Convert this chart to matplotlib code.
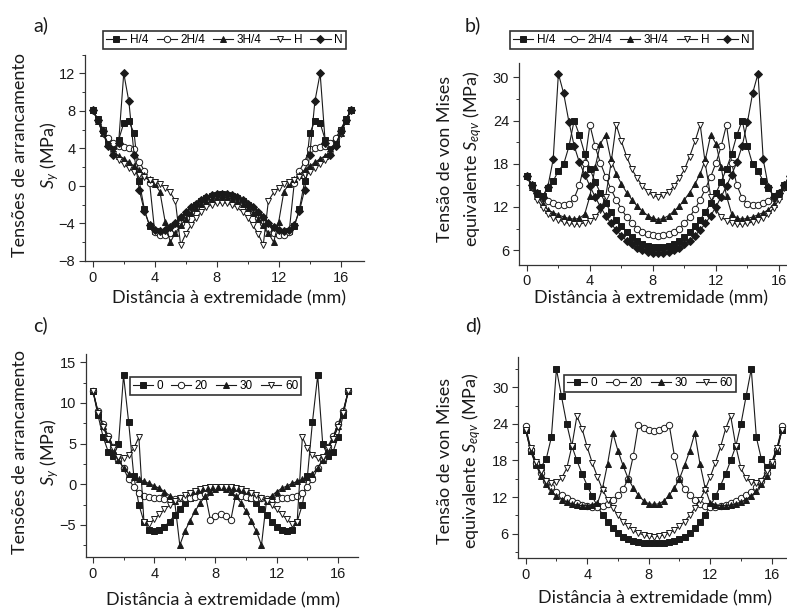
"""Four-panel stress profiles along the bonded length (Sy and von Mises)."""

import matplotlib

matplotlib.use("Agg")
import matplotlib.pyplot as plt
from matplotlib.ticker import MultipleLocator

# distance from the edge (mm)
X_MM = [0.0, 0.33, 0.67, 1.0, 1.33, 1.67, 2.0, 2.33, 2.67, 3.0, 3.33, 3.67, 4.0,
        4.33, 4.67, 5.0, 5.33, 5.67, 6.0, 6.33, 6.67, 7.0, 7.33, 7.67, 8.0, 8.33,
        8.67, 9.0, 9.33, 9.67, 10.0, 10.33, 10.67, 11.0, 11.33, 11.67, 12.0, 12.33,
        12.67, 13.0, 13.33, 13.67, 14.0, 14.33, 14.67, 15.0, 15.33, 15.67, 16.0,
        16.33, 16.67]

# a) peel stress Sy (MPa) vs position
A_LABELS = ["H/4", "2H/4", "3H/4", "H", "N"]
A_H4 = [8.1, 7.1, 6.0, 4.6, 4.3, 4.9, 6.7, 6.9, 5.6, 0.5, -2.5, -4.3, -4.8, -4.9, -4.9, -4.7, -4.2,
        -3.6, -3.0, -2.5, -2.0, -1.6, -1.3, -1.1, -0.95, -0.9, -0.95, -1.1, -1.3, -1.6, -2.0, -2.5,
        -3.0, -3.6, -4.2, -4.7, -4.9, -4.9, -4.8, -4.3, -2.5, 0.5, 5.6, 6.9, 6.7, 4.9, 4.3, 4.6,
        6.0, 7.1, 8.1]
A_2H4 = [8.1, 7.0, 6.0, 5.1, 4.6, 4.2, 4.1, 4.0, 3.9, 2.6, 1.6, 0.3, -4.9, -5.2, -5.2, -5.0, -4.6,
         -4.0, -3.4, -2.8, -2.3, -1.8, -1.5, -1.2, -1.05, -1.0, -1.05, -1.2, -1.5, -1.8, -2.3, -2.8,
         -3.4, -4.0, -4.6, -5.0, -5.2, -5.2, -4.9, 0.3, 1.6, 2.6, 3.9, 4.0, 4.1, 4.2, 4.6, 5.1,
         6.0, 7.0, 8.1]
A_3H4 = [8.1, 6.9, 5.6, 4.5, 3.7, 3.2, 2.9, 2.5, 2.1, 1.7, 1.2, 0.7, 0.2, -0.6, -3.8, -6.0, -5.0,
         -4.2, -3.5, -2.9, -2.4, -1.9, -1.6, -1.4, -1.25, -1.2, -1.25, -1.4, -1.6, -1.9, -2.4, -2.9,
         -3.5, -4.2, -5.0, -6.0, -3.8, -0.6, 0.2, 0.7, 1.2, 1.7, 2.1, 2.5, 2.9, 3.2, 3.7, 4.5,
         5.6, 6.9, 8.1]
A_H = [8.1, 6.9, 5.5, 4.3, 3.4, 2.8, 2.3, 1.9, 1.5, 1.2, 0.9, 0.6, 0.4, 0.2, -0.2, -0.7, -1.6,
       -6.3, -5.1, -4.2, -3.4, -2.8, -2.3, -2.0, -1.85, -1.8, -1.85, -2.0, -2.3, -2.8, -3.4, -4.2,
       -5.1, -6.3, -1.6, -0.7, -0.2, 0.2, 0.4, 0.6, 0.9, 1.2, 1.5, 1.9, 2.3, 2.8, 3.4, 4.3,
       5.5, 6.9, 8.1]
A_N = [8.1, 7.0, 5.8, 4.3, 3.3, 4.6, 12.0, 9.0, 3.3, -0.4, -2.7, -4.2, -4.7, -4.8, -4.7, -4.4, -3.9,
       -3.3, -2.8, -2.3, -1.9, -1.5, -1.2, -1.0, -0.9, -0.85, -0.9, -1.0, -1.2, -1.5, -1.9, -2.3,
       -2.8, -3.3, -3.9, -4.4, -4.7, -4.8, -4.7, -4.2, -2.7, -0.4, 3.3, 9.0, 12.0, 4.6, 3.3, 4.3,
       5.8, 7.0, 8.1]

# b) equivalent von Mises stress (MPa)
B_H4 = [16.3, 15.0, 14.0, 13.5, 14.6, 15.6, 17.0, 17.9, 20.4, 24.0, 22.0, 19.4, 17.3, 15.5, 13.9,
        12.5, 11.3, 10.2, 9.3, 8.5, 7.8, 7.3, 6.9, 6.6, 6.45, 6.4, 6.45, 6.6, 6.9, 7.3, 7.8, 8.5,
        9.3, 10.2, 11.3, 12.5, 13.9, 15.5, 17.3, 19.4, 22.0, 24.0, 20.4, 17.9, 17.0, 15.6, 14.6,
        13.5, 14.0, 15.0, 16.3]
B_2H4 = [16.3, 15.0, 14.0, 13.3, 12.8, 12.5, 12.3, 12.2, 12.4, 13.2, 15.0, 18.1, 23.4, 20.4, 18.1,
         16.2, 14.5, 13.0, 11.7, 10.6, 9.7, 9.0, 8.5, 8.2, 8.05, 8.0, 8.05, 8.2, 8.5, 9.0, 9.7,
         10.6, 11.7, 13.0, 14.5, 16.2, 18.1, 20.4, 23.4, 18.1, 15.0, 13.2, 12.4, 12.2, 12.3, 12.5,
         12.8, 13.3, 14.0, 15.0, 16.3]
B_3H4 = [16.3, 14.8, 13.5, 12.4, 11.6, 11.2, 10.9, 10.6, 10.4, 10.3, 10.4, 11.0, 13.5, 17.5, 20.8,
         22.0, 18.6, 16.6, 15.2, 14.0, 13.0, 12.1, 11.4, 10.8, 10.4, 10.2, 10.4, 10.8, 11.4, 12.1,
         13.0, 14.0, 15.2, 16.6, 18.6, 22.0, 20.8, 17.5, 13.5, 11.0, 10.4, 10.3, 10.4, 10.6, 10.9,
         11.2, 11.6, 12.4, 13.5, 14.8, 16.3]
B_H = [16.3, 14.6, 13.0, 11.9, 11.0, 10.5, 10.2, 9.9, 9.7, 9.6, 9.6, 9.8, 10.1, 10.6, 11.6, 13.4,
       17.9, 23.4, 21.1, 19.0, 17.2, 16.0, 14.9, 14.1, 13.6, 13.4, 13.6, 14.1, 14.9, 16.0, 17.2,
       19.0, 21.1, 23.4, 17.9, 13.4, 11.6, 10.6, 10.1, 9.8, 9.6, 9.6, 9.7, 9.9, 10.2, 10.5, 11.0,
       11.9, 13.0, 14.6, 16.3]
B_N = [16.3, 15.0, 14.0, 13.4, 14.8, 18.6, 30.5, 27.8, 23.8, 20.5, 18.2, 16.5, 14.9, 13.4, 12.0,
       10.8, 9.7, 8.8, 8.0, 7.3, 6.8, 6.35, 6.0, 5.8, 5.65, 5.6, 5.65, 5.8, 6.0, 6.35, 6.8, 7.3,
       8.0, 8.8, 9.7, 10.8, 12.0, 13.4, 14.9, 16.5, 18.2, 20.5, 23.8, 27.8, 30.5, 18.6, 14.8,
       13.4, 14.0, 15.0, 16.3]

# c) peel stress Sy (MPa), second parameter set
C_LABELS = ["0", "20", "30", "60"]
C_0 = [11.5, 8.5, 5.8, 4.0, 3.5, 4.9, 13.4, 7.7, 1.0, -2.5, -4.6, -5.6, -5.8, -5.6, -5.2, -4.6,
       -3.8, -3.0, -2.3, -1.7, -1.2, -0.8, -0.55, -0.4, -0.3, -0.3, -0.3, -0.4, -0.55, -0.8, -1.2,
       -1.7, -2.3, -3.0, -3.8, -4.6, -5.2, -5.6, -5.8, -5.6, -4.6, -2.5, 1.0, 7.7, 13.4, 4.9, 3.5,
       4.0, 5.8, 8.5, 11.5]
C_20 = [11.5, 9.0, 7.4, 5.9, 4.6, 3.0, 2.0, 0.6, -0.3, -1.1, -1.4, -1.6, -1.7, -1.75, -1.8, -1.8,
        -1.8, -1.75, -1.7, -1.65, -1.6, -1.4, -1.2, -4.4, -3.9, -3.7, -3.9, -4.4, -1.2, -1.4, -1.6,
        -1.65, -1.7, -1.75, -1.8, -1.8, -1.8, -1.75, -1.7, -1.6, -1.4, -1.1, -0.3, 0.6, 2.0, 3.0,
        4.6, 5.9, 7.4, 9.0, 11.5]
C_30 = [11.5, 8.9, 7.2, 5.6, 4.2, 3.0, 2.0, 1.3, 0.9, 0.6, 0.35, 0.1, -0.2, -0.5, -0.9, -1.4, -2.0,
        -7.5, -5.8, -4.5, -3.3, -2.3, -1.5, -0.9, -0.55, -0.4, -0.55, -0.9, -1.5, -2.3, -3.3, -4.5,
        -5.8, -7.5, -2.0, -1.4, -0.9, -0.5, -0.2, 0.1, 0.35, 0.6, 0.9, 1.3, 2.0, 3.0, 4.2, 5.6,
        7.2, 8.9, 11.5]
C_60 = [11.5, 8.8, 7.0, 5.6, 4.4, 3.3, 3.2, 3.6, 4.4, 5.8, -4.6, -4.9, -4.3, -3.7, -3.1, -2.6, -2.1,
        -1.7, -1.35, -1.05, -0.8, -0.6, -0.5, -0.4, -0.35, -0.3, -0.35, -0.4, -0.5, -0.6, -0.8,
        -1.05, -1.35, -1.7, -2.1, -2.6, -3.1, -3.7, -4.3, -4.9, -4.6, 5.8, 4.4, 3.6, 3.2, 3.3,
        4.4, 5.6, 7.0, 8.8, 11.5]

# d) equivalent von Mises stress (MPa), second parameter set
D_0 = [23.0, 19.5, 17.5, 17.0, 18.2, 21.8, 33.0, 28.5, 24.0, 20.4, 18.0, 15.8, 13.9, 12.1, 10.5,
       9.1, 7.9, 6.9, 6.1, 5.5, 5.1, 4.8, 4.6, 4.5, 4.45, 4.4, 4.45, 4.5, 4.6, 4.8, 5.1, 5.5, 6.1,
       6.9, 7.9, 9.1, 10.5, 12.1, 13.9, 15.8, 18.0, 20.4, 24.0, 28.5, 33.0, 21.8, 18.2, 17.0,
       17.5, 19.5, 23.0]
D_20 = [23.6, 19.8, 17.6, 16.0, 14.7, 13.6, 12.9, 12.3, 11.8, 11.4, 11.0, 10.7, 10.5, 10.3, 10.3,
        10.5, 10.9, 11.5, 12.3, 13.3, 15.0, 18.8, 23.9, 23.3, 23.0, 22.9, 23.0, 23.3, 23.9, 18.8,
        15.0, 13.3, 12.3, 11.5, 10.9, 10.5, 10.3, 10.3, 10.5, 10.7, 11.0, 11.4, 11.8, 12.3, 12.9,
        13.6, 14.7, 16.0, 17.6, 19.8, 23.6]
D_30 = [23.0, 19.5, 17.2, 15.5, 14.1, 13.0, 12.2, 11.6, 11.2, 10.9, 10.7, 10.6, 10.6, 10.7, 11.0,
        13.5, 17.5, 22.5, 19.6, 17.2, 15.0, 13.5, 12.3, 11.4, 10.9, 10.8, 10.9, 11.4, 12.3, 13.5,
        15.0, 17.2, 19.6, 22.5, 17.5, 13.5, 11.0, 10.7, 10.6, 10.6, 10.7, 10.9, 11.2, 11.6, 12.2,
        13.0, 14.1, 15.5, 17.2, 19.5, 23.0]
D_60 = [23.0, 20.0, 17.8, 16.2, 14.7, 14.3, 14.4, 15.1, 16.7, 20.3, 25.3, 23.2, 20.2, 17.6, 15.3,
        13.2, 11.6, 10.2, 9.0, 8.0, 7.2, 6.6, 6.1, 5.8, 5.6, 5.5, 5.6, 5.8, 6.1, 6.6, 7.2, 8.0,
        9.0, 10.2, 11.6, 13.2, 15.3, 17.6, 20.2, 23.2, 25.3, 20.3, 16.7, 15.1, 14.4, 14.3, 14.7,
        16.2, 17.8, 20.0, 23.0]

LABEL_FONT = "Lato"
INK = "#1a1a1a"

# marker, filled?, size
STYLES = [("s", True, 4.4), ("o", False, 4.6), ("^", True, 4.7), ("v", False, 4.7), ("D", True, 3.6)]

plt.rcParams["font.family"] = "Liberation Sans"
plt.rcParams["mathtext.fontset"] = "custom"
plt.rcParams["mathtext.it"] = "Lato:italic"
plt.rcParams["mathtext.rm"] = "Lato"


def px_rect(left, right, top, bottom):
    """Axes rectangle from pixel edges of the 787x615 canvas."""
    return [left / 787, 1 - bottom / 615, (right - left) / 787, (bottom - top) / 615]


def draw_panel(ax, series, labels, xlim, ylim, ymajor, yminor):
    for values, label, (marker, filled, size) in zip(series, labels, STYLES):
        ax.plot(
            X_MM,
            values,
            color=INK,
            lw=0.8,
            marker=marker,
            ms=size,
            mfc=INK if filled else "white",
            mec=INK,
            mew=0.7,
            label=label,
        )

    ax.set_xlim(*xlim)
    ax.set_ylim(*ylim)
    ax.xaxis.set_major_locator(MultipleLocator(4))
    ax.xaxis.set_minor_locator(MultipleLocator(2))
    ax.yaxis.set_major_locator(MultipleLocator(ymajor))
    ax.yaxis.set_minor_locator(MultipleLocator(yminor))
    for side in ("top", "right"):
        ax.spines[side].set_visible(False)
    for side in ("left", "bottom"):
        ax.spines[side].set_color("#333333")
        ax.spines[side].set_linewidth(0.9)
    ax.tick_params(which="major", direction="out", length=4, width=0.8,
                   colors="#333333", labelsize=10.5, labelcolor=INK, pad=3)
    ax.tick_params(which="minor", direction="out", length=2.5, width=0.7, colors="#333333")


def add_legend(ax, ncol, center):
    leg = ax.legend(
        loc="center",
        bbox_to_anchor=(center[0] / 787, 1 - center[1] / 615),
        bbox_transform=ax.figure.transFigure,
        ncol=ncol,
        fontsize=8.5,
        frameon=True,
        fancybox=False,
        edgecolor="black",
        handlelength=1.7,
        handletextpad=0.3,
        columnspacing=0.7,
        borderpad=0.25,
        borderaxespad=0,
    )
    leg.get_frame().set_linewidth(1.2)


def add_ylabel(fig, line1, line2, x1, x2, yc):
    fig.text(x1 / 787, 1 - yc / 615, line1, rotation=90, ha="center", va="center",
             fontsize=13, family=LABEL_FONT, color=INK)
    fig.text(x2 / 787, 1 - yc / 615, line2, rotation=90, ha="center", va="center",
             fontsize=13, family=LABEL_FONT, color=INK)


def main():
    fig = plt.figure(figsize=(7.87, 6.15), dpi=100)

    ax_a = fig.add_axes(px_rect(85, 364, 54.5, 261))
    draw_panel(ax_a, [A_H4, A_2H4, A_3H4, A_H, A_N], A_LABELS, (-0.5, 17.5), (-8, 14), 4, 2)
    add_legend(ax_a, 5, (224.5, 40))

    ax_b = fig.add_axes(px_rect(519, 802.6, 62.9, 264.5))
    draw_panel(ax_b, [B_H4, B_2H4, B_3H4, B_H, B_N], A_LABELS, (-0.5, 17.5), (4, 32), 6, 3)
    add_legend(ax_b, 5, (631.5, 40))

    ax_c = fig.add_axes(px_rect(86, 358, 354.2, 557.4))
    draw_panel(ax_c, [C_0, C_20, C_30, C_60], C_LABELS, (-0.45, 17.3), (-9, 16), 5, 2.5)
    add_legend(ax_c, 4, (215.5, 386))

    ax_d = fig.add_axes(px_rect(518.3, 794.8, 356.8, 558.1))
    draw_panel(ax_d, [D_0, D_20, D_30, D_60], C_LABELS, (-0.48, 17.5), (2, 35), 6, 3)
    add_legend(ax_d, 4, (650, 383.5))

    xlabel = "Distância à extremidade (mm)"
    for xc, yc in [(229.5, 298), (651, 298), (222.5, 600), (655, 598)]:
        fig.text(xc / 787, 1 - yc / 615, xlabel, ha="center", va="center",
                 fontsize=13, family=LABEL_FONT, color=INK)

    add_ylabel(fig, "Tensões de arrancamento", r"$S_y$ (MPa)", 20, 50, 155)
    add_ylabel(fig, "Tensão de von Mises", r"equivalente $S_{eqv}$ (MPa)", 445, 473, 159)
    add_ylabel(fig, "Tensões de arrancamento", r"$S_y$ (MPa)", 20, 50, 452)
    add_ylabel(fig, "Tensão de von Mises", r"equivalente $S_{eqv}$ (MPa)", 445, 472, 461)

    for text, xl, yc in [("a)", 33, 25), ("b)", 465, 25), ("c)", 33, 325), ("d)", 465, 325)]:
        fig.text(xl / 787, 1 - yc / 615, text, ha="left", va="center",
                 fontsize=14, family=LABEL_FONT, color=INK)

    fig.savefig("out.png", dpi=100)
    plt.close(fig)


if __name__ == "__main__":
    main()
